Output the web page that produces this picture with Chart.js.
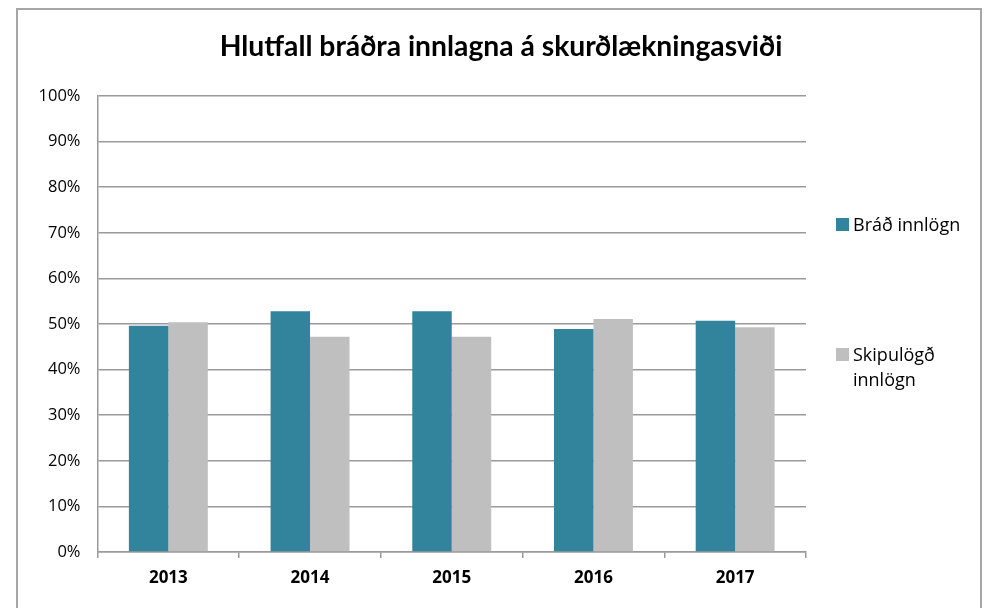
<!DOCTYPE html>
<html>
<head>
<meta charset="utf-8">
<script src="https://cdn.jsdelivr.net/npm/chart.js@4/dist/chart.umd.min.js"></script>
<style>
  html, body { margin: 0; padding: 0; background: #fff; }
  #wrap { position: relative; width: 989px; height: 608px; overflow: hidden; }
  #frame { position: absolute; left: 16px; top: 8px; width: 966px; height: 640px; border: 2px solid #a6a6a6; box-sizing: border-box; }
  #title { position: absolute; left: 0; width: 1002px; top: 25px; text-align: center; font-family: "Liberation Sans Narrow", "Lato", sans-serif; font-weight: bold; font-size: 28.3px; line-height: 40px; color: #000; }
  canvas { position: absolute; left: 0; top: 0; }
  .lg { position: absolute; font-family: "Open Sans", sans-serif; font-size: 18px; line-height: 25px; color: #000; }
  .lg .sw { position: absolute; left: 0; top: 6px; width: 13px; height: 13px; }
  .lg .tx { position: absolute; left: 17px; top: 0; width: 125px; }
</style>
</head>
<body>
<div id="wrap">
  <div id="frame"></div>
  <canvas id="c" width="989" height="608"></canvas>
  <div id="title"></div>
  <div id="legend"></div>
</div>
<script>
const titleText = "Hlutfall bráðra innlagna á skurðlækningasviði";
const categories = ["2013", "2014", "2015", "2016", "2017"];
const seriesNames = ["Bráð innlögn", "Skipulögð innlögn"];
const bradValues = [49.6, 52.8, 52.8, 48.9, 50.7];
const skipValues = [50.4, 47.2, 47.2, 51.1, 49.3];
const yTicks = [0, 10, 20, 30, 40, 50, 60, 70, 80, 90, 100];
const colors = ["#31849b", "#bfbfbf"];

document.getElementById('title').textContent = titleText;

const gridColor = '#9a9a9a';
const chart = new Chart(document.getElementById('c'), {
  type: 'bar',
  data: {
    labels: categories,
    datasets: [
      { label: seriesNames[0], data: bradValues, backgroundColor: colors[0], categoryPercentage: 0.557, barPercentage: 1.0 },
      { label: seriesNames[1], data: skipValues, backgroundColor: colors[1], categoryPercentage: 0.557, barPercentage: 1.0 }
    ]
  },
  options: {
    responsive: false,
    animation: false,
    devicePixelRatio: 1,
    layout: { padding: { left: 17, right: 183, top: 96, bottom: 0 } },
    plugins: { legend: { display: false }, title: { display: false }, tooltip: { enabled: false } },
    scales: {
      x: {
        offset: true,
        grid: { display: true, drawOnChartArea: false, drawTicks: true, tickLength: 6, offset: true, color: gridColor, lineWidth: 1.5 },
        border: { display: true, color: gridColor, width: 1.5 },
        ticks: { color: '#000', padding: 10, font: { family: 'Open Sans', size: 17, weight: 'bold' } },
        afterFit: (s) => { s.height = 56; }
      },
      y: {
        min: 0, max: 100,
        afterBuildTicks: (s) => { s.ticks = yTicks.map(v => ({ value: v })); },
        grid: { color: gridColor, lineWidth: 1.5, drawTicks: false },
        border: { display: true, color: gridColor, width: 1.5 },
        ticks: { color: '#000', padding: 17, font: { family: 'Open Sans', size: 16.5 }, callback: (v) => v + '%' },
        afterFit: (s) => { s.width = 80.5; }
      }
    }
  }
});

// HTML legend built from the datasets
const legendPos = [{ left: 836, top: 212 }, { left: 836, top: 342 }];
const lg = document.getElementById('legend');
chart.data.datasets.forEach((ds, i) => {
  const d = document.createElement('div');
  d.className = 'lg';
  d.style.left = legendPos[i].left + 'px';
  d.style.top = legendPos[i].top + 'px';
  const sw = document.createElement('div');
  sw.className = 'sw';
  sw.style.background = ds.backgroundColor;
  const tx = document.createElement('div');
  tx.className = 'tx';
  tx.textContent = ds.label;
  d.appendChild(sw); d.appendChild(tx);
  lg.appendChild(d);
});
</script>
</body>
</html>
